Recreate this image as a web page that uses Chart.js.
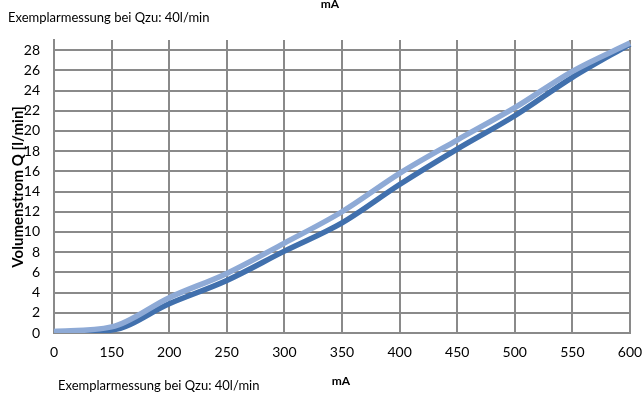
<!DOCTYPE html>
<html>
<head>
<meta charset="utf-8">
<script src="https://cdn.jsdelivr.net/npm/chart.js@4.4.1/dist/chart.umd.min.js"></script>
<style>
html,body{margin:0;padding:0;background:#fff;}
#wrap{width:643px;height:396px;}
</style>
</head>
<body>
<div id="wrap"><canvas id="c" width="643" height="396"></canvas></div>
<script>
const categories = ["0","150","200","250","300","350","400","450","500","550","600"];
const seriesDark  = [0.1, 0.3, 2.9, 5.2, 8.1, 10.9, 14.7, 18.2, 21.5, 25.3, 28.6];
const seriesLight = [0.15, 0.6, 3.5, 5.9, 8.9, 12.0, 15.8, 19.1, 22.3, 25.9, 28.7];
const yTicks = [0,2,4,6,8,10,12,14,16,18,20,22,24,26,28];
const titleText = "mA";
const noteText = "Exemplarmessung bei Qzu: 40l/min";
const yTitle = "Volumenstrom Q [l/min]";

const FONT = "Lato, 'Liberation Sans', sans-serif";
const GRID = "#8a8a8a";

const textPlugin = {
  id: 'texts',
  afterDraw(chart) {
    const ctx = chart.ctx;
    ctx.save();
    ctx.fillStyle = "#000";
    ctx.textBaseline = "middle";
    ctx.font = "bold 12px " + FONT;
    ctx.textAlign = "center";
    ctx.fillText(titleText, 330, 4);
    ctx.fillText(titleText, 341, 381);
    ctx.font = "13px " + FONT;
    ctx.textAlign = "left";
    ctx.fillText(noteText, 8, 18);
    ctx.fillText(noteText, 58, 386);
    ctx.translate(18, 187);
    ctx.rotate(-Math.PI/2);
    ctx.textAlign = "center";
    ctx.font = "bold 15px " + FONT;
    ctx.fillText(yTitle, 0, 0);
    ctx.restore();
  }
};

new Chart(document.getElementById('c'), {
  type: 'line',
  data: {
    labels: categories,
    datasets: [
      { label: 'hell', data: seriesLight, borderColor: '#8eaad6', borderWidth: 5.5, pointRadius: 0, tension: 0.35, cubicInterpolationMode: 'monotone', order: 0, fill: false },
      { label: 'dunkel', data: seriesDark, borderColor: '#4170ad', borderWidth: 5.5, pointRadius: 0, tension: 0.35, cubicInterpolationMode: 'monotone', order: 1, fill: false }
    ]
  },
  options: {
    responsive: false,
    animation: false,
    devicePixelRatio: 1,
    layout: { padding: { top: 40, right: 13, left: 0, bottom: 0 } },
    plugins: { legend: { display: false }, tooltip: { enabled: false } },
    scales: {
      x: {
        type: 'category',
        offset: false,
        grid: { color: GRID, lineWidth: 2, drawTicks: false, offset: false },
        border: { color: GRID, width: 2 },
        ticks: { color: '#000', font: { family: FONT, size: 14 }, padding: 11, maxRotation: 0, autoSkip: false },
        afterFit(s) { s.height = 396 - 333; s.paddingLeft = 0; s.paddingRight = 0; }
      },
      y: {
        min: 0, max: 29,
        grid: { color: GRID, lineWidth: 2, drawTicks: false },
        border: { color: GRID, width: 2 },
        afterBuildTicks(s) { s.ticks = yTicks.map(v => ({ value: v })); },
        ticks: { color: '#000', font: { family: FONT, size: 14 }, padding: 14, includeBounds: false },
        afterFit(s) { s.width = 54; s.paddingTop = 0; s.paddingBottom = 0; }
      }
    }
  },
  plugins: [textPlugin]
});
</script>
</body>
</html>
